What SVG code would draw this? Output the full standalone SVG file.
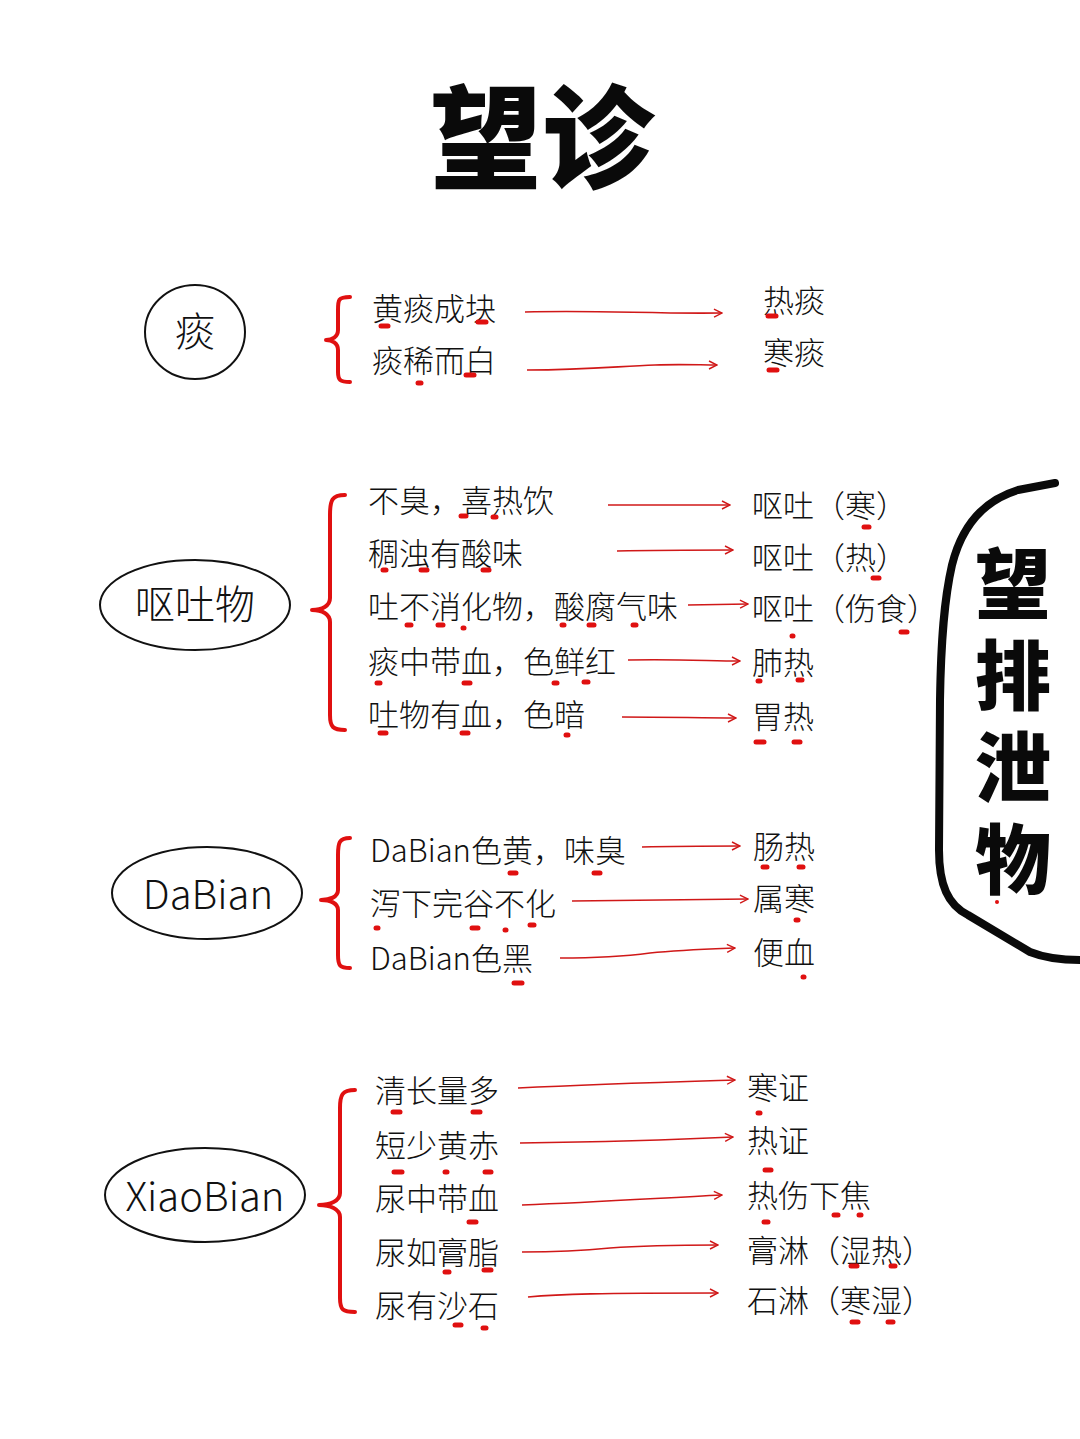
<svg xmlns="http://www.w3.org/2000/svg" width="1080" height="1439" viewBox="0 0 1080 1439">
<defs>
<style>
.t{font-family:"Noto Sans CJK SC","Noto Sans",sans-serif;font-weight:300;font-size:31px;fill:#111}
.n{font-family:"Noto Sans CJK SC","Noto Sans",sans-serif;font-weight:300;font-size:40px;fill:#111;text-anchor:middle}
.big{font-family:"Noto Sans CJK SC",sans-serif;font-weight:900;fill:#0a0a0a;text-anchor:middle}
.el{fill:none;stroke:#111;stroke-width:2}
.br{fill:none;stroke:#e01010;stroke-width:4;stroke-linecap:round;stroke-linejoin:round}
.ar{fill:none;stroke:#d01818;stroke-width:1.6;marker-end:url(#ah)}
.dot{stroke:#e01010;stroke-width:5;stroke-linecap:round}
</style>
<marker id="ah" viewBox="0 0 10 10" refX="9" refY="5" markerWidth="10" markerHeight="10" markerUnits="userSpaceOnUse" orient="auto">
<path d="M1,1 L9,5 L1,9" fill="none" stroke="#d01818" stroke-width="1.4"/>
</marker>
</defs>
<rect width="1080" height="1439" fill="#ffffff"/>

<g id="title"><text class="big" x="542" y="180" font-size="112">望诊</text></g>

<g id="side-title">
<path d="M1055,483 L1018,490 C985,500 962,525 952,565 C944,600 941,640 940,700 L939,850 C939,885 948,905 968,915 L1030,952 C1045,958 1060,960 1080,960" fill="none" stroke="#0a0a0a" stroke-width="8" stroke-linecap="round" stroke-linejoin="round"/>
<text font-family="Noto Sans CJK SC, sans-serif" font-weight="900" fill="#0a0a0a" font-size="76" writing-mode="vertical-rl" letter-spacing="16" x="1013" y="545">望排泄物</text>
<circle cx="997" cy="902" r="2" fill="#e01010"/>
</g>

<!-- Section 1 -->
<g id="node-tan"><ellipse class="el" cx="195" cy="332" rx="50" ry="47"/><text class="n" x="195" y="346" font-size="38">痰</text></g>
<g id="tan-items">
<path class="br" d="M350,297 C338,297 338,300 338,310 L338,330 C338,337 332,340 326,340 C332,340 338,343 338,350 L338,372 C338,380 340,382 350,382"/>
<text class="t" x="372" y="320">黄痰成块</text>
<text class="t" x="372" y="372">痰稀而白</text>
<text class="t" x="763" y="312">热痰</text>
<text class="t" x="763" y="364">寒痰</text>
</g>

<!-- Section 2 -->
<g id="node-outu"><ellipse class="el" cx="195" cy="605" rx="95" ry="45"/><text class="n" x="195" y="619">呕吐物</text></g>
<g id="outu-items">
<path class="br" d="M345,495 C332,495 330,500 330,515 L330,598 C330,606 322,610 312,610 C322,610 330,614 330,622 L330,715 C330,727 333,730 345,730"/>
<text class="t" x="368" y="512">不臭，喜热饮</text>
<text class="t" x="368" y="565">稠浊有酸味</text>
<text class="t" x="368" y="618">吐不消化物，酸腐气味</text>
<text class="t" x="368" y="673">痰中带血，色鲜红</text>
<text class="t" x="368" y="726">吐物有血，色暗</text>
<text class="t" x="752" y="517">呕吐（寒）</text>
<text class="t" x="752" y="569">呕吐（热）</text>
<text class="t" x="752" y="620">呕吐（伤食）</text>
<text class="t" x="752" y="674">肺热</text>
<text class="t" x="752" y="728">胃热</text>
</g>

<!-- Section 3 -->
<g id="node-dabian"><ellipse class="el" cx="207" cy="893" rx="95" ry="46"/><text class="n" x="208" y="909" font-size="44">DaBian</text></g>
<g id="dabian-items">
<path class="br" d="M350,838 C339,838 338,843 338,855 L338,890 C338,897 330,900 321,900 C330,900 338,903 338,910 L338,955 C338,966 340,968 350,968"/>
<text class="t" x="370" y="862">DaBian色黄，味臭</text>
<text class="t" x="370" y="915">泻下完谷不化</text>
<text class="t" x="370" y="970">DaBian色黑</text>
<text class="t" x="753" y="858">肠热</text>
<text class="t" x="753" y="910">属寒</text>
<text class="t" x="753" y="964">便血</text>
</g>

<!-- Section 4 -->
<g id="node-xiaobian"><ellipse class="el" cx="205" cy="1195" rx="100" ry="47"/><text class="n" x="205" y="1211" font-size="44">XiaoBian</text></g>
<g id="xiaobian-items">
<path class="br" d="M355,1090 C342,1090 340,1095 340,1108 L340,1193 C340,1201 330,1205 319,1205 C330,1205 340,1209 340,1217 L340,1298 C340,1310 343,1312 355,1312"/>
<text class="t" x="375" y="1102">清长量多</text>
<text class="t" x="375" y="1157">短少黄赤</text>
<text class="t" x="375" y="1210">尿中带血</text>
<text class="t" x="375" y="1264">尿如膏脂</text>
<text class="t" x="375" y="1317">尿有沙石</text>
<text class="t" x="747" y="1099">寒证</text>
<text class="t" x="747" y="1152">热证</text>
<text class="t" x="747" y="1207">热伤下焦</text>
<text class="t" x="747" y="1262">膏淋（湿热）</text>
<text class="t" x="747" y="1312">石淋（寒湿）</text>
</g>

<g id="connectors">
<path class="ar" d="M525,312 C600,310 650,314 722,313"/>
<path class="ar" d="M527,370 C590,370 620,366 655,365 C680,364 700,365 717,365"/>
<path class="ar" d="M608,505 L730,505"/>
<path class="ar" d="M617,551 C660,550 700,550 733,550"/>
<path class="ar" d="M688,605 L748,604"/>
<path class="ar" d="M628,660 C680,659 710,661 740,661"/>
<path class="ar" d="M622,717 C670,717 700,718 736,718"/>
<path class="ar" d="M642,847 C680,846 710,846 740,846"/>
<path class="ar" d="M572,901 C650,900 700,900 748,899"/>
<path class="ar" d="M560,958 C600,958 620,957 650,953 C680,950 710,949 735,948"/>
<path class="ar" d="M518,1088 C600,1084 670,1082 735,1080"/>
<path class="ar" d="M520,1143 C600,1142 670,1140 733,1137"/>
<path class="ar" d="M522,1205 C600,1202 660,1198 722,1195"/>
<path class="ar" d="M522,1252 C560,1252 580,1251 610,1248 C650,1245 690,1245 718,1245"/>
<path class="ar" d="M528,1297 C560,1294 600,1293 718,1293"/>
</g>

<g id="marks">
<line class="dot" x1="381" y1="326" x2="388" y2="326"/>
<line class="dot" x1="478" y1="322" x2="486" y2="322"/>
<line class="dot" x1="418" y1="383" x2="421" y2="383"/>
<line class="dot" x1="466" y1="375" x2="474" y2="375"/>
<line class="dot" x1="768" y1="316" x2="776" y2="316"/>
<line class="dot" x1="769" y1="370" x2="777" y2="370"/>

<line class="dot" x1="461" y1="516" x2="466" y2="516"/>
<line class="dot" x1="493" y1="517" x2="496" y2="517"/>
<line class="dot" x1="864" y1="527" x2="869" y2="527"/>
<line class="dot" x1="383" y1="570" x2="386" y2="570"/>
<line class="dot" x1="421" y1="570" x2="427" y2="570"/>
<line class="dot" x1="483" y1="570" x2="489" y2="570"/>
<line class="dot" x1="873" y1="578" x2="879" y2="578"/>
<line class="dot" x1="407" y1="625" x2="411" y2="625"/>
<line class="dot" x1="438" y1="625" x2="443" y2="625"/>
<line class="dot" x1="463" y1="628" x2="464" y2="628"/>
<line class="dot" x1="562" y1="625" x2="564" y2="625"/>
<line class="dot" x1="589" y1="625" x2="594" y2="625"/>
<line class="dot" x1="633" y1="625" x2="636" y2="625"/>
<line class="dot" x1="792" y1="636" x2="793" y2="636"/>
<line class="dot" x1="901" y1="632" x2="907" y2="632"/>
<line class="dot" x1="377" y1="683" x2="380" y2="683"/>
<line class="dot" x1="464" y1="683" x2="470" y2="683"/>
<line class="dot" x1="554" y1="683" x2="557" y2="683"/>
<line class="dot" x1="584" y1="682" x2="588" y2="682"/>
<line class="dot" x1="758" y1="681" x2="760" y2="681"/>
<line class="dot" x1="798" y1="680" x2="802" y2="680"/>
<line class="dot" x1="380" y1="733" x2="386" y2="733"/>
<line class="dot" x1="462" y1="733" x2="468" y2="733"/>
<line class="dot" x1="566" y1="735" x2="568" y2="735"/>
<line class="dot" x1="756" y1="742" x2="764" y2="742"/>
<line class="dot" x1="794" y1="742" x2="800" y2="742"/>

<line class="dot" x1="510" y1="873" x2="516" y2="873"/>
<line class="dot" x1="594" y1="873" x2="600" y2="873"/>
<line class="dot" x1="763" y1="867" x2="767" y2="867"/>
<line class="dot" x1="799" y1="867" x2="803" y2="867"/>
<line class="dot" x1="376" y1="928" x2="378" y2="928"/>
<line class="dot" x1="472" y1="928" x2="478" y2="928"/>
<line class="dot" x1="505" y1="930" x2="506" y2="930"/>
<line class="dot" x1="530" y1="925" x2="534" y2="925"/>
<line class="dot" x1="796" y1="920" x2="798" y2="920"/>
<line class="dot" x1="514" y1="983" x2="522" y2="983"/>
<line class="dot" x1="803" y1="977" x2="804" y2="977"/>

<line class="dot" x1="393" y1="1112" x2="400" y2="1112"/>
<line class="dot" x1="473" y1="1112" x2="480" y2="1112"/>
<line class="dot" x1="758" y1="1113" x2="760" y2="1113"/>
<line class="dot" x1="394" y1="1172" x2="402" y2="1172"/>
<line class="dot" x1="445" y1="1172" x2="447" y2="1172"/>
<line class="dot" x1="485" y1="1172" x2="491" y2="1172"/>
<line class="dot" x1="765" y1="1170" x2="771" y2="1170"/>
<line class="dot" x1="469" y1="1222" x2="476" y2="1222"/>
<line class="dot" x1="764" y1="1222" x2="768" y2="1222"/>
<line class="dot" x1="834" y1="1215" x2="838" y2="1215"/>
<line class="dot" x1="859" y1="1215" x2="861" y2="1215"/>
<line class="dot" x1="445" y1="1272" x2="449" y2="1272"/>
<line class="dot" x1="484" y1="1270" x2="491" y2="1270"/>
<line class="dot" x1="851" y1="1266" x2="857" y2="1266"/>
<line class="dot" x1="891" y1="1266" x2="895" y2="1266"/>
<line class="dot" x1="455" y1="1325" x2="461" y2="1325"/>
<line class="dot" x1="483" y1="1328" x2="486" y2="1328"/>
<line class="dot" x1="852" y1="1322" x2="858" y2="1322"/>
<line class="dot" x1="888" y1="1322" x2="893" y2="1322"/>
</g>
</svg>
